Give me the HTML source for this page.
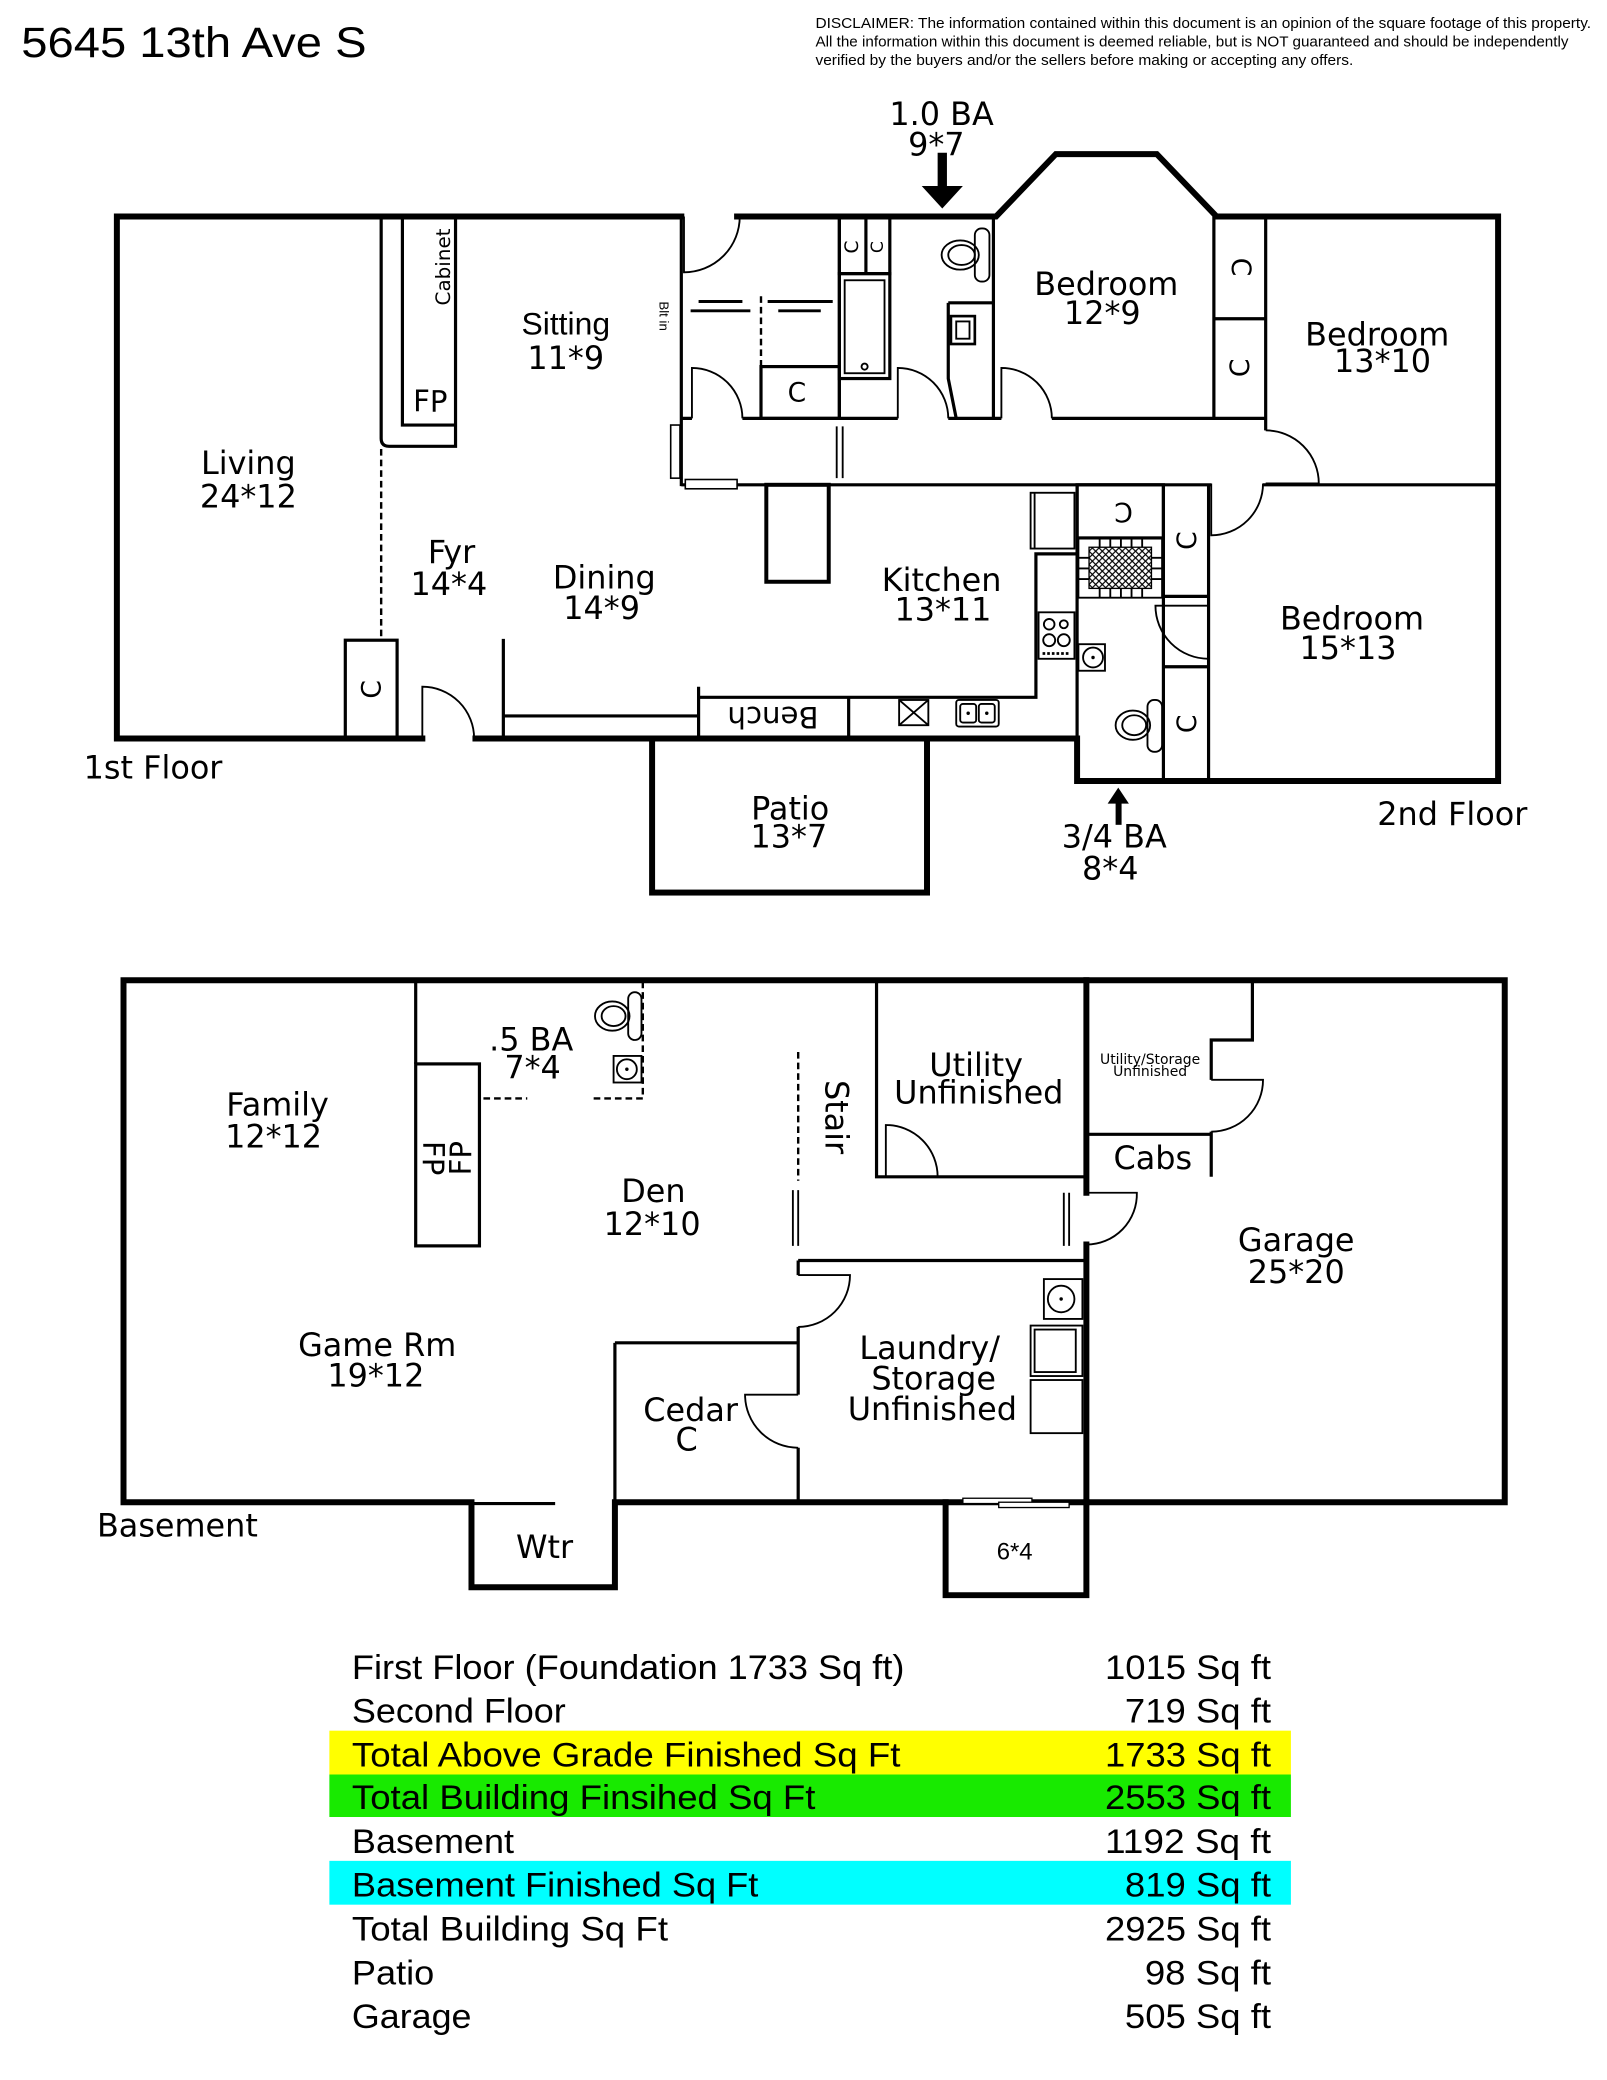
<!DOCTYPE html>
<html><head><meta charset="utf-8"><style>
html,body{margin:0;padding:0;background:#fff;}
svg{display:block;}
.lbl{font-family:"DejaVu Sans",sans-serif;font-size:24px;fill:#000;text-anchor:middle;}
.ar{font-family:"Liberation Sans",sans-serif;fill:#000;}
.c{font-family:"DejaVu Sans",sans-serif;fill:#000;text-anchor:middle;dominant-baseline:central;}
.ext{stroke:#000;stroke-width:4.5;fill:none;stroke-linecap:square;}
.int{stroke:#000;stroke-width:2.4;fill:none;}
.thin{stroke:#000;stroke-width:1.4;fill:none;}
.dash{stroke:#000;stroke-width:1.8;fill:none;stroke-dasharray:5 3;}
</style></head><body>
<svg width="1607" height="2080" viewBox="0 0 1210 1566" preserveAspectRatio="none" xmlns="http://www.w3.org/2000/svg">
<defs>
<pattern id="hatch" width="5" height="5" patternUnits="userSpaceOnUse">
<path d="M0,0 L5,5 M5,0 L0,5" stroke="#000" stroke-width="0.9"/>
</pattern>
</defs>
<rect width="1210" height="1566" fill="#fff"/>

<!-- Title + disclaimer -->
<text class="ar" x="16" y="43" font-size="32" textLength="260" lengthAdjust="spacingAndGlyphs">5645 13th Ave S</text>
<text class="ar" x="614" y="21" font-size="11" textLength="584" lengthAdjust="spacingAndGlyphs">DISCLAIMER: The information contained within this document is an opinion of the square footage of this property.</text>
<text class="ar" x="614" y="35" font-size="11" textLength="567" lengthAdjust="spacingAndGlyphs">All the information within this document is deemed reliable, but is NOT guaranteed and should be independently</text>
<text class="ar" x="614" y="49" font-size="11" textLength="405" lengthAdjust="spacingAndGlyphs">verified by the buyers and/or the sellers before making or accepting any offers.</text>

<!-- ============ UPPER FLOORS ============ -->
<path class="ext" d="M513,163 H88 V556 H318"/>
<path class="ext" d="M555,163 H750 L795,116 H871 L916,163 H1128 V588 H811 V556 H358"/>
<rect class="ext" x="491" y="556" width="207" height="116"/>

<path class="thin" d="M515,163 V205 A42,42 0 0 0 557,163"/>

<!-- cabinet / FP -->
<path class="int" d="M287,163 V330 Q287,336 293,336 H343 V163"/>
<path class="int" d="M303,163 V320 H343"/>
<text class="c" font-size="15" transform="translate(334,201) rotate(-90)">Cabinet</text>
<text class="lbl" x="324" y="310" style="font-size:22px">FP</text>
<path class="dash" d="M287,338 V482"/>

<rect class="int" x="260" y="482" width="39" height="74"/>
<text class="c" font-size="20" transform="translate(280,519) rotate(-90)">C</text>
<path class="thin" d="M318,556 V517 A39,39 0 0 1 357,556"/>
<path class="int" d="M379,481 V556 M379,539 H526"/>

<path class="int" d="M526,517 V556 M526,525 H780 V417 H811 M639,525 V556"/>
<text class="c" font-size="22" transform="translate(582,540) rotate(180)">Bench</text>
<rect class="thin" x="677" y="527" width="22" height="19"/>
<path class="thin" d="M677,527 L699,546 M699,527 L677,546"/>
<rect class="thin" x="720" y="527" width="32" height="20" rx="2"/>
<rect class="thin" x="723" y="530" width="12" height="14" rx="2"/>
<rect class="thin" x="737" y="530" width="12" height="14" rx="2"/>
<circle cx="729" cy="537" r="1.3"/><circle cx="743" cy="537" r="1.3"/>

<rect x="577" y="365" width="47" height="73" fill="none" stroke="#000" stroke-width="3"/>
<rect class="thin" x="776" y="371" width="33" height="42"/>
<path class="thin" d="M779,371 V413"/>
<rect class="thin" x="782" y="461" width="27" height="35"/>
<circle class="thin" cx="790" cy="470" r="4"/><circle class="thin" cx="801" cy="470" r="3"/>
<circle class="thin" cx="790" cy="482" r="4.5"/><circle class="thin" cx="801" cy="482" r="4.5"/>
<path d="M785,492 H806" stroke="#000" stroke-width="2" stroke-dasharray="2 1.5"/>

<!-- corridor -->
<path class="int" d="M513,163 V366"/>
<path class="int" d="M513,315 H521 M559,315 H676 M714,315 H754 M792,315 H953"/>
<path class="int" d="M513,365 H912 M951,365 H1128"/>
<rect x="505" y="320" width="7" height="40" fill="#fff" stroke="#000" stroke-width="1.2"/>
<rect x="516" y="361" width="39" height="7" fill="#fff" stroke="#000" stroke-width="1.2"/>
<path class="thin" d="M630,321 V360 M634.5,321 V360" />

<text class="c" font-size="10" transform="translate(500,238) rotate(90)" style="font-family:'Liberation Sans',sans-serif">Blt in</text>
<path d="M526,227 H559 M520,234 H565 M578,227 H627 M586,234 H618" stroke="#000" stroke-width="2.2"/>
<path class="dash" d="M573,223 V276"/>
<rect class="int" x="573" y="276" width="59" height="39"/>
<text class="c" font-size="20" x="600" y="296">C</text>
<path class="thin" d="M521,315 V277 A38,38 0 0 1 559,315"/>

<!-- bath 1.0 -->
<path class="int" d="M632,163 V315"/>
<rect class="int" x="632" y="164" width="38" height="42"/>
<path class="int" d="M652,164 V206"/>
<text class="c" font-size="14" transform="translate(642,186) rotate(-90)">C</text>
<text class="c" font-size="13" transform="translate(661,186) rotate(-90)">C</text>
<rect class="int" x="632" y="206" width="38" height="79"/>
<rect class="thin" x="636" y="211" width="30" height="70"/>
<circle class="thin" cx="651" cy="276" r="2.3"/>
<rect class="thin" x="734" y="172" width="11" height="40" rx="5"/>
<ellipse class="thin" cx="723" cy="192" rx="14" ry="11"/>
<ellipse class="thin" cx="724" cy="192" rx="10" ry="7.5"/>
<path class="int" d="M714,228 H748 M714,228 V285 L720,315"/>
<rect x="716" y="238" width="18" height="21" fill="none" stroke="#000" stroke-width="2"/>
<rect class="thin" x="720" y="242" width="10" height="13"/>
<path class="thin" d="M676,315 V277 A38,38 0 0 1 714,315"/>
<path class="int" d="M748,163 V315"/>

<path class="thin" d="M754,315 V277 A38,38 0 0 1 792,315"/>

<path class="int" d="M914,163 V316 M953,163 V324 M914,240 H953"/>
<text class="c" font-size="20" transform="translate(934,201) rotate(90)">C</text>
<text class="c" font-size="20" transform="translate(934,277) rotate(-90)">C</text>
<path class="thin" d="M953,364 H993 A40,40 0 0 0 953,324"/>
<path class="thin" d="M912,364 V403 A39,39 0 0 0 951,364"/>

<!-- 3/4 bath -->
<path class="int" d="M811,365 V556 M876,365 V588 M910,365 V588"/>
<rect class="int" x="811" y="365" width="65" height="40"/>
<text class="c" font-size="20" transform="translate(846,385) rotate(180)">C</text>
<rect class="thin" x="812" y="405" width="63" height="45"/>
<rect x="820" y="412" width="47" height="31" fill="url(#hatch)" stroke="#000" stroke-width="1"/>
<path class="thin" d="M828,405 V412 M836,405 V412 M844,405 V412 M852,405 V412 M860,405 V412 M828,443 V450 M836,443 V450 M844,443 V450 M852,443 V450 M860,443 V450 M812,420 H820 M812,428 H820 M812,436 H820 M867,420 H875 M867,428 H875 M867,436 H875"/>
<path class="int" d="M876,449 H910 M876,502 H910"/>
<text class="c" font-size="20" transform="translate(894,407) rotate(-90)">C</text>
<text class="c" font-size="20" transform="translate(894,545) rotate(-90)">C</text>
<path class="thin" d="M910,456 H870 A40,40 0 0 0 910,496"/>
<rect class="thin" x="864" y="527" width="11" height="39" rx="5"/>
<ellipse class="thin" cx="853" cy="546" rx="13" ry="11"/>
<ellipse class="thin" cx="854" cy="546" rx="9" ry="7.5"/>
<rect class="thin" x="812" y="485" width="20" height="20"/>
<circle class="thin" cx="823" cy="495" r="7.5"/>
<circle cx="823" cy="495" r="1.3"/>

<!-- arrows -->
<rect x="706" y="115" width="7" height="27"/>
<polygon points="694,140 725,140 709.5,157"/>
<rect x="840" y="603" width="4.5" height="18"/>
<polygon points="834,605 850,605 842,593"/>

<!-- upper labels -->
<text class="lbl" x="709" y="94">1.0 BA</text>
<text class="lbl" x="705" y="117">9*7</text>
<text class="lbl" x="187" y="357">Living</text>
<text class="lbl" x="187" y="382">24*12</text>
<text class="ar" x="426" y="252" font-size="24" text-anchor="middle">Sitting</text>
<text class="lbl" x="426" y="278">11*9</text>
<text class="lbl" x="340" y="424">Fyr</text>
<text class="lbl" x="338" y="448">14*4</text>
<text class="lbl" x="455" y="443">Dining</text>
<text class="lbl" x="453" y="466">14*9</text>
<text class="lbl" x="709" y="445">Kitchen</text>
<text class="lbl" x="710" y="467">13*11</text>
<text class="lbl" x="833" y="222">Bedroom</text>
<text class="lbl" x="830" y="244">12*9</text>
<text class="lbl" x="1037" y="260">Bedroom</text>
<text class="lbl" x="1041" y="280">13*10</text>
<text class="lbl" x="1018" y="474">Bedroom</text>
<text class="lbl" x="1015" y="496">15*13</text>
<text class="lbl" x="595" y="617">Patio</text>
<text class="lbl" x="594" y="638">13*7</text>
<text class="lbl" x="839" y="638">3/4 BA</text>
<text class="lbl" x="836" y="662">8*4</text>
<text class="lbl" x="63" y="586" style="text-anchor:start">1st Floor</text>
<text class="lbl" x="1037" y="621" style="text-anchor:start">2nd Floor</text>

<!-- ============ BASEMENT ============ -->
<path class="ext" d="M463,1131 H1133 V738 H93 V1131 H355 V1195 H463 V1131"/>
<path class="ext" d="M712,1131 V1201 H818 V1131"/>
<path class="ext" d="M818,738 V898 M818,937 V1131"/>
<path class="int" d="M355,1132 H418"/>
<path class="int" d="M463,1011 V1131"/>

<path class="int" d="M313,738 V801"/>
<rect class="int" x="313" y="801" width="48" height="137"/>
<text class="c" font-size="22" transform="translate(326,872) rotate(90)">FP</text>
<text class="c" font-size="22" transform="translate(347,872) rotate(-90)">FP</text>

<path class="dash" d="M484,739 V827 M364,827 H397 M447,827 H484"/>
<rect class="thin" x="473" y="747" width="10" height="36" rx="5"/>
<ellipse class="thin" cx="461" cy="765" rx="13" ry="11"/>
<ellipse class="thin" cx="462" cy="765" rx="9" ry="7.5"/>
<rect class="thin" x="462" y="795" width="21" height="20"/>
<circle class="thin" cx="472" cy="805" r="7.5"/>
<circle cx="472" cy="805" r="1.3"/>

<path class="dash" d="M601,792 V889"/>
<path class="thin" d="M597,896 V938 M601,896 V938"/>
<path class="thin" d="M801,898 V938 M805,898 V938"/>
<text class="c" font-size="24" transform="translate(630,841) rotate(90)">Stair</text>

<path class="int" d="M660,738 V886 H818"/>
<path class="thin" d="M667,886 V847 A39,39 0 0 1 706,886"/>

<path class="int" d="M943,738 V783 H912 V813 M912,852 V886 M818,854 H912"/>
<path class="thin" d="M912,813 H951 A39,39 0 0 1 912,852"/>
<path class="thin" d="M818,898 H856 A38,38 0 0 1 818,937"/>

<path class="int" d="M601,949 H818 M601,949 V960 M601,999 V1050 M601,1090 V1131"/>
<path class="thin" d="M601,960 H640 A39,39 0 0 1 601,999"/>
<path class="int" d="M463,1011 H601"/>
<path class="thin" d="M601,1050 H561 A40,40 0 0 0 601,1090"/>
<rect class="thin" x="786" y="963" width="29" height="30"/>
<circle class="thin" cx="799" cy="978" r="10"/>
<circle cx="799" cy="978" r="1.3"/>
<rect class="thin" x="776" y="998" width="39" height="38"/>
<rect class="thin" x="779" y="1001" width="31" height="32"/>
<rect class="thin" x="776" y="1039" width="39" height="40"/>

<rect x="725" y="1128" width="52" height="4" fill="#fff" stroke="#000" stroke-width="1"/>
<rect x="752" y="1131" width="53" height="4" fill="#fff" stroke="#000" stroke-width="1"/>

<!-- basement labels -->
<text class="lbl" x="209" y="840">Family</text>
<text class="lbl" x="206" y="864">12*12</text>
<text class="lbl" x="400" y="791">.5 BA</text>
<text class="lbl" x="401" y="812">7*4</text>
<text class="lbl" x="492" y="905">Den</text>
<text class="lbl" x="491" y="930">12*10</text>
<text class="lbl" x="284" y="1021">Game Rm</text>
<text class="lbl" x="283" y="1044">19*12</text>
<text class="lbl" x="520" y="1070">Cedar</text>
<text class="lbl" x="517" y="1092">C</text>
<text class="lbl" x="410" y="1173">Wtr</text>
<text class="lbl" x="73" y="1157" style="text-anchor:start">Basement</text>
<text class="lbl" x="735" y="810">Utility</text>
<text class="lbl" x="737" y="831">Unfinished</text>
<text class="lbl" x="866" y="801" style="font-size:10.5px">Utility/Storage</text>
<text class="lbl" x="866" y="810" style="font-size:10.5px">Unfinished</text>
<text class="lbl" x="868" y="880">Cabs</text>
<text class="lbl" x="976" y="942">Garage</text>
<text class="lbl" x="976" y="966">25*20</text>
<text class="lbl" x="700" y="1023">Laundry/</text>
<text class="lbl" x="703" y="1046">Storage</text>
<text class="lbl" x="702" y="1069">Unfinished</text>
<text class="ar" x="764" y="1174" font-size="18" text-anchor="middle">6*4</text>

<!-- ============ TABLE ============ -->
<rect x="248" y="1303" width="724" height="33" fill="#ffff00"/>
<rect x="248" y="1336" width="724" height="32" fill="#18ea00"/>
<rect x="248" y="1401" width="724" height="33" fill="#00ffff"/>
<g class="ar" font-size="26">
<text x="265" y="1264" textLength="416" lengthAdjust="spacingAndGlyphs">First Floor (Foundation 1733 Sq ft)</text>
<text x="265" y="1297" textLength="161" lengthAdjust="spacingAndGlyphs">Second Floor</text>
<text x="265" y="1330" textLength="413" lengthAdjust="spacingAndGlyphs">Total Above Grade Finished Sq Ft</text>
<text x="265" y="1362" textLength="349" lengthAdjust="spacingAndGlyphs">Total Building Finsihed Sq Ft</text>
<text x="265" y="1395" textLength="122" lengthAdjust="spacingAndGlyphs">Basement</text>
<text x="265" y="1428" textLength="306" lengthAdjust="spacingAndGlyphs">Basement Finished Sq Ft</text>
<text x="265" y="1461" textLength="238" lengthAdjust="spacingAndGlyphs">Total Building Sq Ft</text>
<text x="265" y="1494" textLength="62" lengthAdjust="spacingAndGlyphs">Patio</text>
<text x="265" y="1527" textLength="90" lengthAdjust="spacingAndGlyphs">Garage</text>
<text x="832" y="1264" textLength="125" lengthAdjust="spacingAndGlyphs">1015 Sq ft</text>
<text x="847" y="1297" textLength="110" lengthAdjust="spacingAndGlyphs">719 Sq ft</text>
<text x="832" y="1330" textLength="125" lengthAdjust="spacingAndGlyphs">1733 Sq ft</text>
<text x="832" y="1362" textLength="125" lengthAdjust="spacingAndGlyphs">2553 Sq ft</text>
<text x="832" y="1395" textLength="125" lengthAdjust="spacingAndGlyphs">1192 Sq ft</text>
<text x="847" y="1428" textLength="110" lengthAdjust="spacingAndGlyphs">819 Sq ft</text>
<text x="832" y="1461" textLength="125" lengthAdjust="spacingAndGlyphs">2925 Sq ft</text>
<text x="862" y="1494" textLength="95" lengthAdjust="spacingAndGlyphs">98 Sq ft</text>
<text x="847" y="1527" textLength="110" lengthAdjust="spacingAndGlyphs">505 Sq ft</text>
</g>
</svg>
</body></html>
